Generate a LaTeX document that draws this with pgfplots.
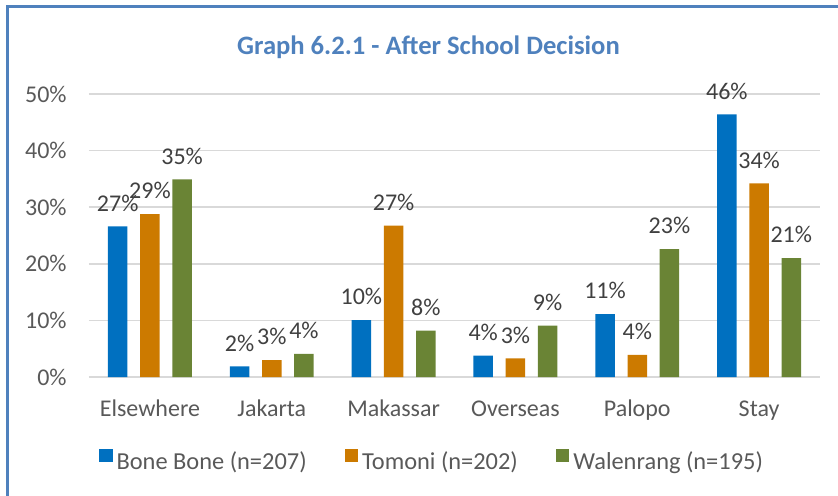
\documentclass[border=0pt]{standalone}
\usepackage{pgfplots}
\pgfplotsset{compat=1.18}
\usepackage{fontspec}
\setmainfont{Carlito}
\definecolor{cblue}{RGB}{0,112,192}
\definecolor{corange}{RGB}{204,122,0}
\definecolor{cgreen}{RGB}{106,132,53}
\definecolor{ctitle}{RGB}{79,129,189}
\definecolor{cframe}{RGB}{79,129,189}
\definecolor{ctick}{RGB}{89,89,89}
\definecolor{clabel}{RGB}{64,64,64}
\definecolor{cgrid}{RGB}{217,217,217}
\begin{document}
\begin{tikzpicture}
\useasboundingbox (-44.5pt,-59pt) rectangle (374.5pt,188.5pt);
\draw[cframe, line width=1.5pt] (-40.75pt,-80pt) rectangle (400pt,185.25pt);
\begin{axis}[
  at={(0pt,0pt)}, anchor=south west,
  scale only axis, width=365.5pt, height=141.5pt,
  ybar=6.35pt, bar width=9.75pt,
  xmin=-0.5, xmax=5.5, ymin=0, ymax=50,
  xtick={0,1,2,3,4,5},
  xticklabels={Elsewhere,Jakarta,Makassar,Overseas,Palopo,Stay},
  ytick={0,10,20,30,40,50},
  yticklabels={0\%,10\%,20\%,30\%,40\%,50\%},
  axis line style={draw=none},
  major tick length=0pt,
  ymajorgrids, grid style={cgrid, line width=0.75pt},
  tick label style={font=\fontsize{12}{14}\selectfont, text=ctick},
  xticklabel style={anchor=base, yshift=-19.85pt},
  yticklabel style={xshift=-7.65pt},
  title={Graph 6.2.1 - After School Decision},
  title style={at={(0.4644,1.1236)}, anchor=center, font=\fontsize{13.3}{15}\selectfont\bfseries, text=ctitle},
  nodes near coords={\pgfmathprintnumber[fixed,precision=0,assume math mode=true]{\pgfplotspointmeta}\%},
  every node near coord/.append style={anchor=base, yshift=7.6pt, font=\fontsize{12}{14}\selectfont, text=clabel},
  legend image code/.code={\fill[#1] (0pt,0pt) rectangle (6.75pt,6.75pt);},
  legend style={at={(0.4706,-0.3004)}, anchor=center, draw=none, fill=none,
    legend columns=3, font=\fontsize{12.2}{14}\selectfont, text=ctick,
    /tikz/every even column/.append style={column sep=17pt}},
]
\addplot[fill=cblue, draw=none] coordinates {(0,26.6) (1,1.9) (2,10.05) (3,3.8) (4,11.1) (5,46.4)};
\addplot[fill=corange, draw=none] coordinates {(0,28.8) (1,3.0) (2,26.75) (3,3.3) (4,3.9) (5,34.2)};
\addplot[fill=cgreen, draw=none] coordinates {(0,34.9) (1,4.1) (2,8.2) (3,9.1) (4,22.6) (5,21.0)};
\legend{Bone Bone (n=207),Tomoni (n=202),Walenrang (n=195)}
\end{axis}
\end{tikzpicture}
\end{document}
